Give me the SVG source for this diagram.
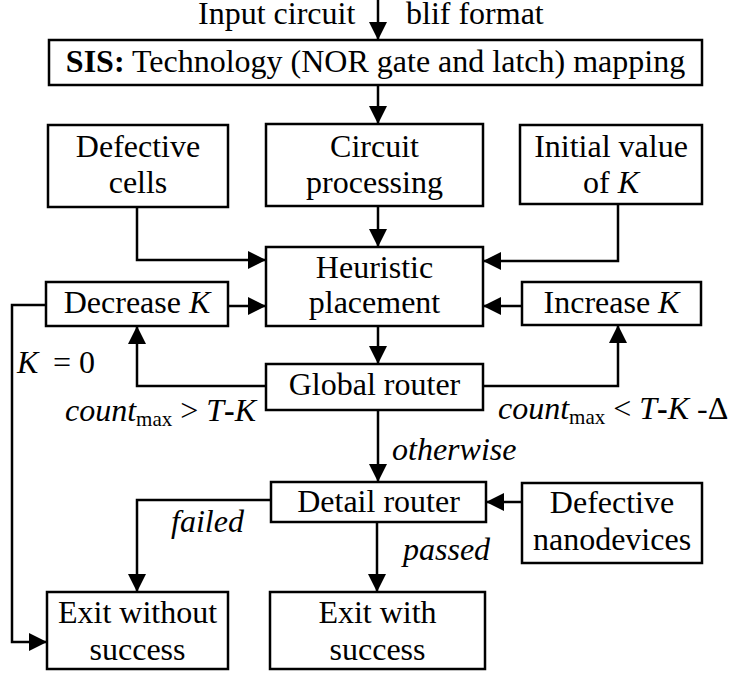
<svg xmlns="http://www.w3.org/2000/svg" width="731" height="673" viewBox="0 0 731 673" font-family="Liberation Serif" font-size="32">
<defs>
<marker id="ah" markerUnits="userSpaceOnUse" markerWidth="18" markerHeight="18" refX="18" refY="9" orient="auto">
<path d="M0,0 L18,9 L0,18 z" fill="#000"/>
</marker>
</defs>
<g id="connectors" fill="none" stroke="#000" stroke-width="2.5">
<path d="M378,0 V40" marker-end="url(#ah)"/>
<path d="M378,85 V124" marker-end="url(#ah)"/>
<path d="M378,206 V247" marker-end="url(#ah)"/>
<path d="M137,207 V260 H266" marker-end="url(#ah)"/>
<path d="M618,204 V261 H483" marker-end="url(#ah)"/>
<path d="M228,306 H266" marker-end="url(#ah)"/>
<path d="M522,306 H483" marker-end="url(#ah)"/>
<path d="M378,326 V364" marker-end="url(#ah)"/>
<path d="M266,386 H137 V326" marker-end="url(#ah)"/>
<path d="M483,386 H618 V325" marker-end="url(#ah)"/>
<path d="M46,305 H12 V642 H47" marker-end="url(#ah)"/>
<path d="M378,410 V482" marker-end="url(#ah)"/>
<path d="M522,502 H486" marker-end="url(#ah)"/>
<path d="M271,500 H137 V592" marker-end="url(#ah)"/>
<path d="M377,522 V592" marker-end="url(#ah)"/>
</g>
<g id="labels" fill="#000">
<text x="198" y="24">Input circuit</text>
<text x="406" y="24">blif format</text>
<text x="17" y="373"><tspan font-style="italic">K</tspan><tspan x="53">= 0</tspan></text>
<text x="65" y="421"><tspan font-style="italic">count</tspan><tspan font-size="21" dy="5">max</tspan><tspan dy="-5"> &gt; </tspan><tspan font-style="italic">T</tspan><tspan font-weight="bold">-</tspan><tspan font-style="italic">K</tspan></text>
<text x="498" y="419"><tspan font-style="italic">count</tspan><tspan font-size="21" dy="5">max</tspan><tspan dy="-5"> &lt; </tspan><tspan font-style="italic">T</tspan><tspan font-weight="bold">-</tspan><tspan font-style="italic">K</tspan><tspan> -&#916;</tspan></text>
<text font-style="italic" x="392" y="460">otherwise</text>
<text font-style="italic" x="171" y="532">failed</text>
<text font-style="italic" x="403" y="560">passed</text>
</g>
<g id="sis" text-anchor="middle">
<rect x="49" y="40" width="653" height="45" fill="#fff" stroke="#000" stroke-width="2.5"/>
<text x="375.5" y="72"><tspan font-weight="bold">SIS:</tspan> Technology (NOR gate and latch) mapping</text>
</g>
<g id="defective-cells" text-anchor="middle">
<rect x="48" y="125" width="180" height="82" fill="#fff" stroke="#000" stroke-width="2.5"/>
<text x="138" y="157">Defective</text>
<text x="138" y="193">cells</text>
</g>
<g id="circuit-processing" text-anchor="middle">
<rect x="266" y="124" width="217" height="82" fill="#fff" stroke="#000" stroke-width="2.5"/>
<text x="374.5" y="157">Circuit</text>
<text x="374.5" y="193">processing</text>
</g>
<g id="initial-k" text-anchor="middle">
<rect x="520" y="125" width="182" height="79" fill="#fff" stroke="#000" stroke-width="2.5"/>
<text x="611" y="157">Initial value</text>
<text x="611" y="193">of <tspan font-style="italic">K</tspan></text>
</g>
<g id="heuristic" text-anchor="middle">
<rect x="266" y="247" width="217" height="79" fill="#fff" stroke="#000" stroke-width="2.5"/>
<text x="374.5" y="278">Heuristic</text>
<text x="374.5" y="313">placement</text>
</g>
<g id="decrease-k" text-anchor="middle">
<rect x="46" y="282" width="182" height="44" fill="#fff" stroke="#000" stroke-width="2.5"/>
<text x="137" y="313">Decrease <tspan font-style="italic">K</tspan></text>
</g>
<g id="increase-k" text-anchor="middle">
<rect x="522" y="282" width="179" height="43" fill="#fff" stroke="#000" stroke-width="2.5"/>
<text x="611.5" y="313">Increase <tspan font-style="italic">K</tspan></text>
</g>
<g id="global-router" text-anchor="middle">
<rect x="266" y="364" width="217" height="46" fill="#fff" stroke="#000" stroke-width="2.5"/>
<text x="374.5" y="395">Global router</text>
</g>
<g id="detail-router" text-anchor="middle">
<rect x="271" y="482" width="215" height="40" fill="#fff" stroke="#000" stroke-width="2.5"/>
<text x="378.5" y="512">Detail router</text>
</g>
<g id="defective-nanodevices" text-anchor="middle">
<rect x="522" y="483" width="180" height="80" fill="#fff" stroke="#000" stroke-width="2.5"/>
<text x="612" y="513">Defective</text>
<text x="612" y="550">nanodevices</text>
</g>
<g id="exit-fail" text-anchor="middle">
<rect x="47" y="592" width="181" height="77" fill="#fff" stroke="#000" stroke-width="2.5"/>
<text x="137.5" y="623">Exit without</text>
<text x="137.5" y="660">success</text>
</g>
<g id="exit-success" text-anchor="middle">
<rect x="270" y="592" width="215" height="77" fill="#fff" stroke="#000" stroke-width="2.5"/>
<text x="377.5" y="623">Exit with</text>
<text x="377.5" y="660">success</text>
</g>
</svg>
